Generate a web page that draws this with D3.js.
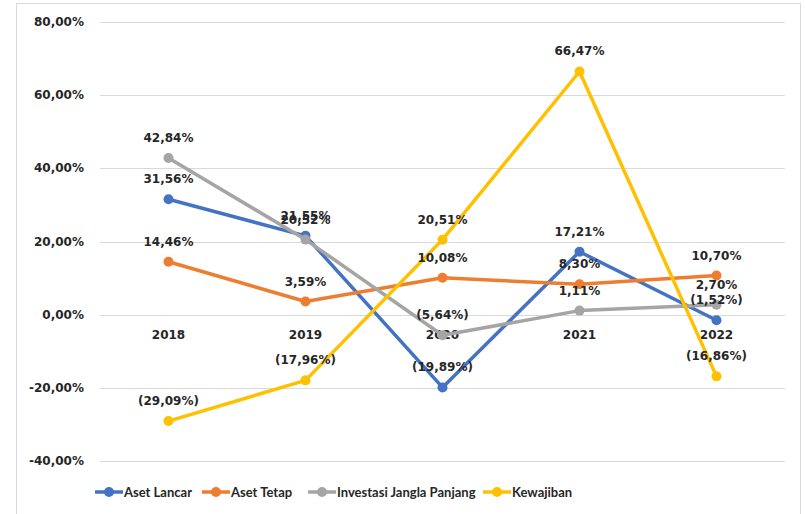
<!DOCTYPE html>
<html>
<head>
<meta charset="utf-8">
<script src="https://cdn.jsdelivr.net/npm/d3@7"></script>
<style>
  body { margin: 0; background: #fff; }
  svg text { font-family: "DejaVu Sans", Verdana, sans-serif; font-weight: bold; fill: #262626; }
  svg .legend text { font-family: Lato, "Liberation Sans", sans-serif; }
</style>
</head>
<body>
<svg id="chart" width="805" height="514"></svg>
<script>
var years = ["2018", "2019", "2020", "2021", "2022"];
var asetLancar = [31.56, 21.55, -19.89, 17.21, -1.52];
var asetTetap = [14.46, 3.59, 10.08, 8.30, 10.70];
var investasi = [42.84, 20.52, -5.64, 1.11, 2.70];
var kewajiban = [-29.09, -17.96, 20.51, 66.47, -16.86];
var yTicks = [-40, -20, 0, 20, 40, 60, 80];
var seriesNames = ["Aset Lancar", "Aset Tetap", "Investasi Jangla Panjang", "Kewajiban"];
var seriesColors = ["#4472C4", "#ED7D31", "#A5A5A5", "#FFC000"];

var series = [asetLancar, asetTetap, investasi, kewajiban].map(function (vals, i) {
    return { name: seriesNames[i], color: seriesColors[i], values: vals };
});

var svg = d3.select("#chart");

// outer frame
svg.append("rect")
    .attr("x", 16.5).attr("y", 3.5)
    .attr("width", 784).attr("height", 520)
    .attr("fill", "none").attr("stroke", "#d9d9d9");

var x = d3.scaleBand().domain(years).range([100, 785]);
var y = d3.scaleLinear().domain([-40, 80]).range([461, 22]);

function fmt(v) {
    var s = Math.abs(v).toFixed(2).replace(".", ",") + "%";
    return v < 0 ? "(" + s + ")" : s;
}

// gridlines
svg.append("g").selectAll("line")
    .data(yTicks)
    .enter().append("line")
    .attr("x1", 100).attr("x2", 785)
    .attr("y1", function (d) { return Math.round(y(d)) + 0.5; })
    .attr("y2", function (d) { return Math.round(y(d)) + 0.5; })
    .attr("stroke", "#d9d9d9").attr("stroke-width", 1);

// y tick labels
svg.append("g").selectAll("text")
    .data(yTicks)
    .enter().append("text")
    .attr("x", 84)
    .attr("y", function (d) { return y(d) + 4; })
    .attr("text-anchor", "end")
    .attr("font-size", "12px")
    .text(function (d) { return d.toFixed(2).replace(".", ",") + "%"; });

// category labels near zero line
svg.append("g").selectAll("text")
    .data(years)
    .enter().append("text")
    .attr("x", function (d) { return x(d) + x.bandwidth() / 2; })
    .attr("y", y(0) + 24)
    .attr("text-anchor", "middle")
    .attr("font-size", "12px")
    .text(function (d) { return d; });

var line = d3.line()
    .x(function (d, i) { return x(years[i]) + x.bandwidth() / 2; })
    .y(function (d) { return y(d); });

series.forEach(function (s) {
    var g = svg.append("g");
    g.append("path")
        .datum(s.values)
        .attr("d", line)
        .attr("fill", "none")
        .attr("stroke", s.color)
        .attr("stroke-width", 3.5)
        .attr("stroke-linejoin", "round");
    g.selectAll("circle")
        .data(s.values)
        .enter().append("circle")
        .attr("cx", function (d, i) { return x(years[i]) + x.bandwidth() / 2; })
        .attr("cy", function (d) { return y(d); })
        .attr("r", 5)
        .attr("fill", s.color);
});

// data labels
series.forEach(function (s) {
    svg.append("g").selectAll("text")
        .data(s.values)
        .enter().append("text")
        .attr("x", function (d, i) { return x(years[i]) + x.bandwidth() / 2; })
        .attr("y", function (d) { return y(d) - 16; })
        .attr("text-anchor", "middle")
        .attr("font-size", "12px")
        .text(function (d) { return fmt(d); });
});

// legend
var legendX = [95, 202, 308, 483];
var legend = svg.append("g").attr("class", "legend").selectAll("g")
    .data(series)
    .enter().append("g")
    .attr("transform", function (d, i) { return "translate(" + legendX[i] + ",492)"; });
legend.append("line")
    .attr("x1", 0).attr("x2", 28)
    .attr("stroke", function (d) { return d.color; })
    .attr("stroke-width", 3.5);
legend.append("circle")
    .attr("cx", 14).attr("r", 5)
    .attr("fill", function (d) { return d.color; });
legend.append("text")
    .attr("x", 29).attr("y", 4.5)
    .attr("font-size", "13px")
    .text(function (d) { return d.name; });
</script>
</body>
</html>
